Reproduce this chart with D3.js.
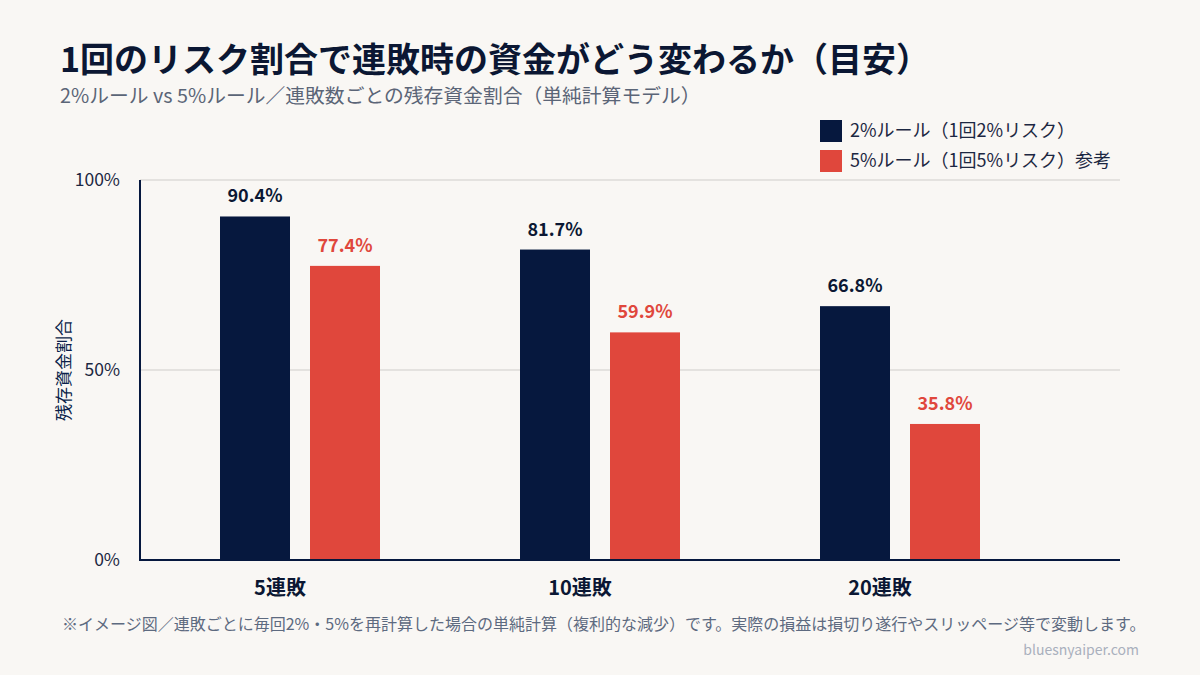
<!DOCTYPE html>
<meta charset="utf-8">
<style>
    html, body { margin: 0; background: #f9f7f4; }
    svg { display: block; font-family: "Noto Sans CJK JP", "Noto Sans", sans-serif; }
    .grid line { stroke: #e4e2df; stroke-width: 2px; }
    .tick-label { font-size: 17.5px; fill: #1c2742; }
    .cat-label { font-size: 20px; font-weight: 700; fill: #0b1733; }
    .val { font-size: 18px; font-weight: 700; }
</style>
<body>
<script src="https://d3js.org/d3.v7.min.js"></script>
<script>
    var width = 1200, height = 675;

    var categories = ["5連敗", "10連敗", "20連敗"];
    var rule2 = [90.4, 81.7, 66.8];
    var rule5 = [77.4, 59.9, 35.8];
    var yTicks = [0, 50, 100];
    var seriesNames = ["2%ルール（1回2%リスク）", "5%ルール（1回5%リスク）参考"];
    var colors = ["#06183e", "#e0473c"];

    var svg = d3.select("body").append("svg")
        .attr("width", width)
        .attr("height", height);

    svg.append("rect").attr("width", width).attr("height", height).attr("fill", "#f9f7f4");

    // titles
    svg.append("text").attr("x", 60).attr("y", 72)
        .style("font-size", "34px").style("font-weight", 700).attr("fill", "#0b1733")
        .text("1回のリスク割合で連敗時の資金がどう変わるか（目安）");
    svg.append("text").attr("x", 60).attr("y", 103)
        .style("font-size", "19.8px").attr("fill", "#5b6577")
        .text("2%ルール vs 5%ルール／連敗数ごとの残存資金割合（単純計算モデル）");

    var x = d3.scaleBand().domain(categories).range([150, 1050]);
    var y = d3.scaleLinear().domain([0, 100]).range([560, 180]);
    var barW = 70, gap = 20;

    // grid
    svg.append("g").attr("class", "grid")
        .selectAll("line").data(yTicks.filter(function (d) { return d > 0; }))
        .enter().append("line")
        .attr("x1", 140).attr("x2", 1120)
        .attr("y1", function (d) { return y(d); }).attr("y2", function (d) { return y(d); });

    svg.selectAll(".tick-label").data(yTicks).enter().append("text")
        .attr("class", "tick-label")
        .attr("x", 120).attr("y", function (d) { return y(d) + 6; })
        .attr("text-anchor", "end")
        .text(function (d) { return d + "%"; });

    svg.append("text")
        .attr("transform", "translate(70,370) rotate(-90)")
        .attr("text-anchor", "middle")
        .style("font-size", "17px").attr("fill", "#0b1f4a")
        .text("残存資金割合");

    // bars
    var series = [rule2, rule5];
    series.forEach(function (vals, s) {
        var off = s === 0 ? -gap / 2 - barW : gap / 2;
        svg.append("g").selectAll("rect").data(vals).enter().append("rect")
            .attr("x", function (d, i) { return x(categories[i]) + x.bandwidth() / 2 + off; })
            .attr("y", function (d) { return y(d); })
            .attr("width", barW)
            .attr("height", function (d) { return y(0) - y(d); })
            .attr("fill", colors[s]);
        svg.append("g").selectAll("text").data(vals).enter().append("text")
            .attr("class", "val")
            .attr("x", function (d, i) { return x(categories[i]) + x.bandwidth() / 2 + off + barW / 2; })
            .attr("y", function (d) { return y(d) - 14; })
            .attr("text-anchor", "middle")
            .attr("fill", s === 0 ? "#0b1733" : colors[1])
            .text(function (d) { return d.toFixed(1) + "%"; });
    });

    // axes lines
    svg.append("line").attr("x1", 140).attr("x2", 140).attr("y1", 180).attr("y2", 561)
        .attr("stroke", "#06183e").attr("stroke-width", 2);
    svg.append("line").attr("x1", 139).attr("x2", 1120).attr("y1", 560).attr("y2", 560)
        .attr("stroke", "#06183e").attr("stroke-width", 2);

    svg.selectAll(".cat-label").data(categories).enter().append("text")
        .attr("class", "cat-label")
        .attr("x", function (d) { return x(d) + x.bandwidth() / 2 - 20; })
        .attr("y", 595)
        .attr("text-anchor", "middle")
        .text(function (d) { return d; });

    // legend
    var leg = svg.append("g").attr("transform", "translate(820,120)");
    seriesNames.forEach(function (n, i) {
        leg.append("rect").attr("x", 0).attr("y", i * 30).attr("width", 22).attr("height", 22).attr("fill", colors[i]);
        leg.append("text").attr("x", 30).attr("y", i * 30 + 17)
            .style("font-size", "18px").attr("fill", "#1c2742").text(n);
    });

    // footnote
    svg.append("text").attr("x", 62).attr("y", 630)
        .style("font-size", "16px").attr("fill", "#5d6a80")
        .text("※イメージ図／連敗ごとに毎回2%・5%を再計算した場合の単純計算（複利的な減少）です。実際の損益は損切り遂行やスリッページ等で変動します。");
    svg.append("text").attr("x", 1139).attr("y", 655).attr("text-anchor", "end")
        .style("font-size", "14px").attr("fill", "#a9b0bd")
        .text("bluesnyaiper.com");
</script>
</body>
</html>
